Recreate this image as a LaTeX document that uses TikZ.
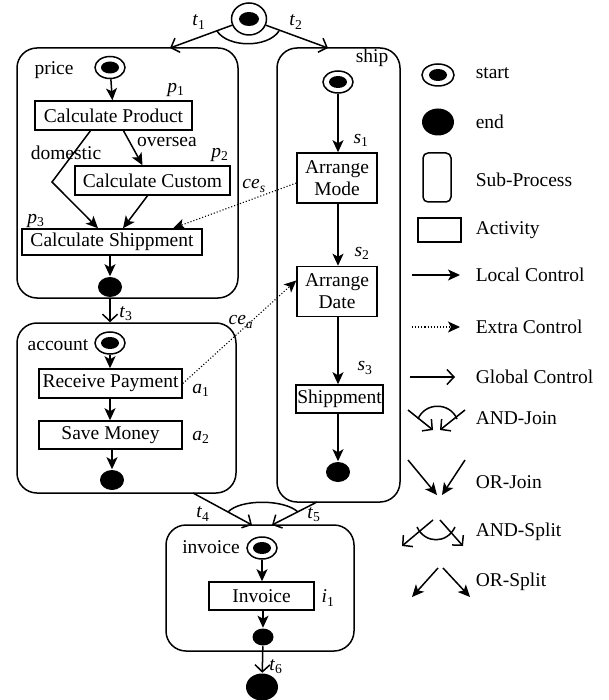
\documentclass[tikz,border=0pt]{standalone}
\usepackage{fontspec}
\setmainfont{Liberation Serif}
\usetikzlibrary{shapes.geometric,arrows.meta,calc}
\newcommand{\lab}[2]{\textit{#1}\textsubscript{#2}}
\begin{document}
\begin{tikzpicture}[x=1pt,y=-1pt,line width=1.5pt,
  font=\fontsize{19.5}{22}\selectfont,
  startn/.style={ellipse,draw,minimum width=30pt,minimum height=22pt,inner sep=0pt,
    path picture={\fill (path picture bounding box.center) ellipse (9pt and 6pt);}},
  endn/.style={ellipse,fill,minimum width=24pt,minimum height=20pt,inner sep=0pt},
  act/.style={draw,rectangle,inner sep=0pt,align=center},
  subp/.style={draw,rectangle,rounded corners=20pt,inner sep=0pt},
  loc/.style={-{Stealth[length=12pt,width=11pt,inset=3pt]}},
  ext/.style={dotted,line width=1.1pt,-{Stealth[length=12pt,width=11pt,inset=3pt]}},
  glob/.style={-{Straight Barb[length=7pt,width=15pt]}},
  txt/.style={inner sep=0pt},
  ltxt/.style={inner sep=0pt,anchor=west}]
\useasboundingbox (0,0) rectangle (609,700);

% sub-processes
\node[subp,minimum width=221pt,minimum height=250pt] (price) at (127.5,173) {};
\node[subp,minimum width=123pt,minimum height=454pt] (ship) at (338.5,275) {};
\node[subp,minimum width=219pt,minimum height=170pt] (acc) at (126.5,408) {};
\node[subp,minimum width=188pt,minimum height=126pt] (inv) at (260,588) {};

% top start and AND-split
\node[ellipse,draw,minimum width=35pt,minimum height=32pt,inner sep=0pt,
  path picture={\fill (path picture bounding box.center) ellipse (10pt and 7pt);}] (top) at (249,19) {};
\coordinate (t1e) at (170,48);
\coordinate (t2e) at (328,48);
\draw[glob] (top) -- (t1e);
\draw[glob] (top) -- (t2e);
\draw (217,31) .. controls (228,48) and (268,48) .. (279,31);
\node[txt] (lt1) at (199,22) {\lab{t}{1}};
\node[txt] (lt2) at (296,22) {\lab{t}{2}};

% price
\node[txt] (lprice) at (54,70) {price};
\node[startn] (ps) at (110,67.5) {};
\node[act,minimum width=157pt,minimum height=29pt] (p1) at (113.5,115.5) {Calculate Product};
\node[act,minimum width=155pt,minimum height=29pt] (p2) at (152.5,180.5) {Calculate Custom};
\node[act,minimum width=180pt,minimum height=26pt] (p3) at (112,242) {Calculate Shippment};
\node[endn] (pend) at (110,287) {};
\node[txt] (lp1) at (176,90) {\lab{p}{1}};
\node[txt] (lp2) at (220,155) {\lab{p}{2}};
\node[txt] (lp3) at (36,221) {\lab{p}{3}};
\node[txt] (lov) at (167,142) {oversea};
\node[txt] (ldom) at (66,153) {domestic};
\coordinate (dbend) at (52,182);
\draw[loc] (ps) -- (p1);
\draw[loc] ($(p1.south)+(10,0)$) -- ($(p2.north)+(-10,0)$);
\draw[loc] ($(p1.south)+(-23,0)$) -- (dbend) -- ($(p3.north)+(-14,0)$);
\draw[loc] ($(p2.south)+(-5,0)$) -- ($(p3.north)+(11,0)$);
\draw[loc] (p3.south -| pend) -- (pend);

% ship
\node[txt] (lship) at (372,58) {ship};
\node[startn] (ss) at (338,82) {};
\node[act,minimum width=80pt,minimum height=50pt] (s1) at (337,178) {Arrange\\Mode};
\node[act,minimum width=80pt,minimum height=50pt] (s2) at (337,291.5) {Arrange\\Date};
\node[act,minimum width=87pt,minimum height=28pt] (s3) at (339.5,399) {Shippment};
\node[endn] (send) at (338,472) {};
\node[txt] (ls1) at (361,140) {\lab{s}{1}};
\node[txt] (ls2) at (362,253) {\lab{s}{2}};
\node[txt] (ls3) at (365,368) {\lab{s}{3}};
\draw[loc] (ss) -- (ss |- s1.north);
\draw[loc] (s1.south -| ss) -- (s2.north -| ss);
\draw[loc] (s2.south -| ss) -- (s3.north -| ss);
\draw[loc] (s3.south -| send) -- (send);

% extra control ce_s
\draw[ext] ($(s1.west)+(0,5)$) -- ($(p3.north)+(61,0)$);
\node[txt] (lces) at (254,186) {\textit{ce}\textsubscript{\textit{s}}};

% t3
\draw[glob] (pend) -- (pend |- acc.north);
\node[txt] (lt3) at (126,314) {\lab{t}{3}};

% account
\node[txt] (lacc) at (58,345) {account};
\node[startn] (as) at (110,343) {};
\node[act,minimum width=143pt,minimum height=29pt] (a1) at (110.5,383.5) {Receive Payment};
\node[act,minimum width=143pt,minimum height=28pt] (a2) at (110.5,435) {Save Money};
\node[endn] (aend) at (112,480) {};
\node[txt] (la1) at (201,390) {\lab{a}{1}};
\node[txt] (la2) at (201,437) {\lab{a}{2}};
\draw[loc] (as) -- (as |- a1.north);
\draw[loc] (a1.south -| as) -- (a2.north -| as);
\draw[loc] (a2.south -| aend) -- (aend);
\draw[ext] (a1.east) -- ($(s2.west)+(0,-11)$);
\node[txt] (lcea) at (241,322) {\textit{ce}\textsubscript{\textit{a}}};

% t4, t5 AND-join
\coordinate (t4s) at (193,493);
\coordinate (t4e) at (252,525);
\coordinate (t5s) at (317,502);
\coordinate (t5e) at (272,525);
\draw[glob] (t4s) -- (t4e);
\draw[glob] (t5s) -- (t5e);
\draw (228,512) .. controls (240,499) and (284,499) .. (298,512);
\node[txt] (lt4) at (203,514) {\lab{t}{4}};
\node[txt] (lt5) at (314,515) {\lab{t}{5}};

% invoice
\node[txt] (linv) at (211,547) {invoice};
\node[startn] (is) at (262,548) {};
\node[act,minimum width=105pt,minimum height=28pt] (i1) at (261.5,596) {Invoice};
\node[endn,minimum width=21pt,minimum height=17pt] (iend) at (263,637) {};
\node[endn,minimum width=32pt,minimum height=27pt] (fend) at (262,687) {};
\node[txt] (li1) at (328,598) {\lab{i}{1}};
\node[txt] (lt6) at (276,667) {\lab{t}{6}};
\draw[loc] (is) -- (is |- i1.north);
\draw[loc] (i1.south -| iend) -- (iend);
\draw[glob] (iend) -- (fend);

% legend
\node[startn,minimum width=32pt,minimum height=22pt] (lgs) at (438,75) {};
\node[ltxt] (lgst) at (475,73) {start};
\node[endn,minimum width=32pt,minimum height=27pt] (lge) at (438,122) {};
\node[ltxt] (lget) at (475,122) {end};
\node[draw,rectangle,rounded corners=5pt,minimum width=28pt,minimum height=49pt,inner sep=0pt] (lgsp) at (437,177.5) {};
\node[ltxt] (lgspt) at (475,180) {Sub-Process};
\node[act,minimum width=43pt,minimum height=24pt] (lga) at (439.5,230) {};
\node[ltxt] (lgat) at (475,230) {Activity};
\coordinate (lc1) at (412,275); \coordinate (lc2) at (460,275);
\draw[loc] (lc1) -- (lc2);
\node[ltxt] (lglc) at (475,275) {Local Control};
\coordinate (ec1) at (412,327); \coordinate (ec2) at (460,327);
\draw[ext] (ec1) -- (ec2);
\node[ltxt] (lgec) at (475,327) {Extra Control};
\coordinate (gc1) at (410,377); \coordinate (gc2) at (455,377);
\draw[glob] (gc1) -- (gc2);
\node[ltxt] (lggc) at (475,377) {Global Control};
% AND-Join
\coordinate (aj1) at (408,410); \coordinate (aj2) at (433,430);
\coordinate (aj3) at (465,410); \coordinate (aj4) at (440,430);
\draw[glob] (aj1) -- (aj2);
\draw[glob] (aj3) -- (aj4);
\draw (418,419) .. controls (425,402) and (450,402) .. (457,419);
\node[ltxt] (lgaj) at (475,418) {AND-Join};
% OR-Join
\coordinate (oj1) at (408,460); \coordinate (oj2) at (437,495);
\coordinate (oj3) at (465,460); \coordinate (oj4) at (442,495);
\draw[loc] (oj1) -- (oj2);
\draw[loc] (oj3) -- (oj4);
\node[ltxt] (lgoj) at (475,482) {OR-Join};
% AND-Split
\coordinate (as1) at (433,520); \coordinate (as2) at (402,546);
\coordinate (as3) at (440,520); \coordinate (as4) at (463,546);
\draw[glob] (as1) -- (as2);
\draw[glob] (as3) -- (as4);
\draw (417,527) .. controls (425,544) and (447,544) .. (455,527);
\node[ltxt] (lgas) at (475,532) {AND-Split};
% OR-Split
\coordinate (os1) at (438,568); \coordinate (os2) at (412,597);
\coordinate (os3) at (443,568); \coordinate (os4) at (470,597);
\draw[loc] (os1) -- (os2);
\draw[loc] (os3) -- (os4);
\node[ltxt] (lgos) at (475,582) {OR-Split};
\end{tikzpicture}
\end{document}
